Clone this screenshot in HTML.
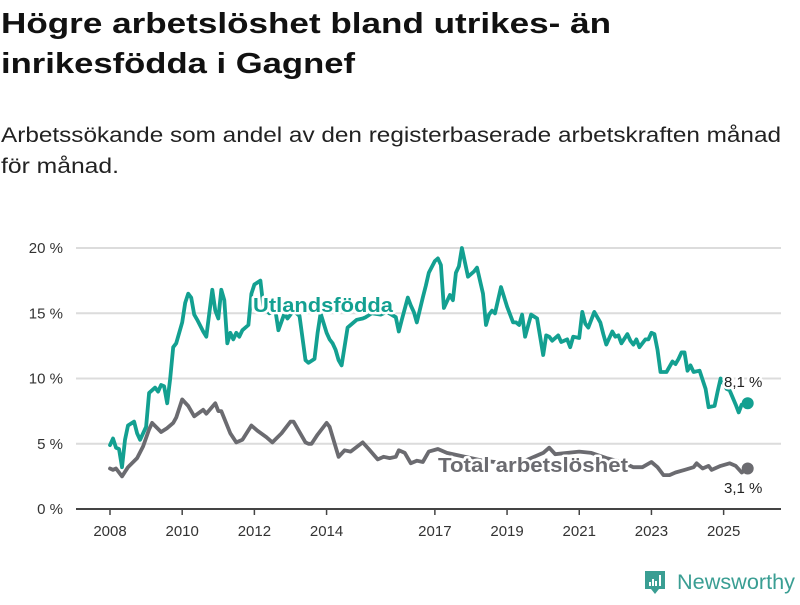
<!DOCTYPE html>
<html><head><meta charset="utf-8">
<style>
html,body{margin:0;padding:0;background:#fff;}
body{width:800px;height:600px;overflow:hidden;font-family:"Liberation Sans",sans-serif;}
svg text{font-family:"Liberation Sans",sans-serif;}
</style></head>
<body>
<svg id="chart" width="800" height="600" viewBox="0 0 800 600">
  <text x="1" y="33" font-size="29" font-weight="bold" fill="#111" textLength="610" lengthAdjust="spacingAndGlyphs">Högre arbetslöshet bland utrikes- än</text>
  <text x="1" y="73" font-size="29" font-weight="bold" fill="#111" textLength="354" lengthAdjust="spacingAndGlyphs">inrikesfödda i Gagnef</text>
  <text x="1" y="142" font-size="21" fill="#222" textLength="780" lengthAdjust="spacingAndGlyphs">Arbetssökande som andel av den registerbaserade arbetskraften månad</text>
  <text x="1" y="173" font-size="21" fill="#222" textLength="118" lengthAdjust="spacingAndGlyphs">för månad.</text>
  <g id="grid"></g>
  <g id="xaxis"></g>
  <g id="series"></g>
  <g id="labels"></g>
  <g>
    <path d="M645 571 h20 v18 h-6 l-4 5 l-4 -5 h-6 z" fill="#3a9e93"/>
    <rect x="649" y="582" width="2" height="4" fill="#fff"/>
    <rect x="652" y="579" width="2" height="7" fill="#fff"/>
    <rect x="655" y="581" width="2" height="5" fill="#fff"/>
    <rect x="659" y="575" width="2" height="11" fill="#fff"/>
    <text x="677" y="589" font-size="21" fill="#3a9e93" textLength="118" lengthAdjust="spacingAndGlyphs">Newsworthy</text>
  </g>
</svg>
<script>
// months since 2008-01
const foreignMonths = [0,1,2,3,4,5,6,8,9,10,12,13,15,16,17,18,19,20,21,22,24,25,26,27,28,29,31,32,34,35,36,37,38,39,40,41,42,43,44,46,47,48,50,51,53,55,56,58,59,61,63,65,66,68,69,70,72,73,74,75,76,77,79,81,82,84,85,87,90,92,95,96,97,99,100,101,102,104,105,106,108,109,110,111,113,114,115,116,117,119,121,122,124,125,126,127,128,130,132,134,135,136,137,138,140,142,144,145,146,147,149,150,152,153,154,156,157,158,159,161,163,164,165,167,168,169,170,172,173,174,175,176,178,179,180,181,182,183,185,187,188,189,190,191,192,193,194,196,198,199,201,202,203,205,206,208,209,210,212];
const foreignValues = [4.9,5.4,4.7,4.6,3.2,5.3,6.4,6.7,5.8,5.3,6.3,8.9,9.3,9.0,9.5,9.4,8.1,10.0,12.4,12.7,14.3,15.8,16.5,16.2,14.9,14.5,13.6,13.2,16.8,15.2,14.6,16.8,16.0,12.7,13.5,13.0,13.5,13.2,13.7,14.1,16.5,17.2,17.5,15.5,15.0,15.2,13.7,15.0,14.6,15.2,14.8,11.4,11.2,11.5,13.5,15.0,13.5,13.0,12.7,12.2,11.4,11.0,13.9,14.3,14.5,14.6,14.7,15.0,14.9,15.1,14.7,13.6,14.5,16.2,15.6,15.1,14.3,16.2,17.1,18.1,19.0,19.2,18.7,15.4,16.4,16.0,18.1,18.6,20.0,17.8,18.2,18.5,16.5,14.1,14.9,15.2,15.0,17.0,15.5,14.3,14.3,14.1,14.9,13.2,14.9,14.6,11.8,13.3,13.2,12.9,13.3,12.8,13.0,12.4,13.2,13.1,15.1,14.2,13.9,15.1,14.3,13.4,12.6,13.6,13.2,13.3,12.7,13.4,12.9,12.6,13.0,12.4,13.0,13.0,13.5,13.4,12.2,10.5,10.5,11.3,11.1,11.5,12.0,12.0,10.6,11.0,10.5,10.6,9.2,7.8,7.9,9.0,10.0,9.2,9.1,8.0,7.4,8.0,8.1];
const totalMonths = [0,1,2,4,6,9,11,13,14,17,19,21,22,24,26,28,31,32,35,36,37,40,42,44,47,49,52,54,57,60,61,65,66,67,69,72,73,76,78,80,84,86,89,91,93,95,96,98,100,102,104,106,109,112,116,120,124,128,132,136,140,144,146,148,152,156,160,165,170,174,177,180,182,184,186,188,191,194,195,197,199,200,203,206,208,210,212];
const totalValues = [3.1,3.0,3.1,2.5,3.2,3.9,4.8,6.1,6.6,5.9,6.2,6.6,7.0,8.4,7.9,7.1,7.6,7.3,8.1,7.5,7.5,5.8,5.1,5.3,6.4,6.0,5.5,5.1,5.8,6.7,6.7,5.1,5.0,5.0,5.7,6.6,6.3,4.0,4.5,4.4,5.1,4.6,3.8,4.0,3.9,4.0,4.5,4.3,3.5,3.7,3.6,4.4,4.6,4.3,4.1,3.9,3.7,3.6,3.4,3.5,3.9,4.3,4.7,4.2,4.3,4.4,4.3,3.9,3.6,3.2,3.2,3.6,3.2,2.6,2.6,2.8,3.0,3.2,3.5,3.1,3.3,3.0,3.3,3.5,3.3,2.8,3.1];
const yTicks = [0,5,10,15,20];
const yTickLabels = ["0 %","5 %","10 %","15 %","20 %"];
const xTickYears = [2008,2010,2012,2014,2017,2019,2021,2023,2025];

const NS="http://www.w3.org/2000/svg";
const xScale = m => 110 + m*3.008;
const yScale = v => 509 - v*13.05;
function mk(tag, attrs, parent){const e=document.createElementNS(NS,tag);for(const k in attrs)e.setAttribute(k,attrs[k]);parent.appendChild(e);return e;}
const grid=document.getElementById('grid'), xa=document.getElementById('xaxis'), ser=document.getElementById('series'), lab=document.getElementById('labels');

yTicks.forEach((t,i)=>{
  if(t>0){
    const l=mk('line',{x1:76,x2:781,y1:yScale(t),y2:yScale(t),stroke:'#dcdcdc','stroke-width':2},grid);
    
    
  }
  const tx=mk('text',{x:63,y:yScale(t)+5,'font-size':15,fill:'#333','text-anchor':'end'},grid);
  tx.textContent=yTickLabels[i];
  
  
});
const ax=mk('line',{x1:76,x2:781,y1:509,y2:509,stroke:'#444','stroke-width':2},xa);


xTickYears.forEach(y=>{
  const x=xScale((y-2008)*12);
  const t=mk('line',{x1:x,x2:x,y1:509,y2:515,stroke:'#444','stroke-width':1.5},xa);
  
  
  const tx=mk('text',{x:x,y:536,'font-size':15,fill:'#333','text-anchor':'middle'},xa);
  tx.textContent=String(y);
  
  
});
function line(ms,vs,color,name){
  const d=ms.map((m,i)=>(i?'L':'M')+xScale(m).toFixed(1)+' '+yScale(vs[i]).toFixed(1)).join(' ');
  const p=mk('path',{d:d,fill:'none',stroke:color,'stroke-width':3.8,'stroke-linejoin':'round','stroke-linecap':'round'},ser);
  
  
  const n=ms.length-1;
  const c=mk('circle',{cx:xScale(ms[n]),cy:yScale(vs[n]),r:6,fill:color},ser);
  
  
}
line(totalMonths,totalValues,'#6b6b70','total');
line(foreignMonths,foreignValues,'#13a091','foreign');
function label(x,y,txt,size,color,weight,anchor,name,len){
  const a={x:x,y:y,'font-size':size,fill:color,'font-weight':weight,'text-anchor':anchor,stroke:'#fff','stroke-width':5,'paint-order':'stroke','stroke-linejoin':'round'};
  if(len){a.textLength=len;a.lengthAdjust='spacingAndGlyphs';}
  const t=mk('text',a,lab);
  t.textContent=txt;
  
  
}
label(253,312,'Utlandsfödda',20,'#13a091','bold','start','series-label-foreign',140);
label(438,472,'Total arbetslöshet',20,'#6b6b70','bold','start','series-label-total',190);
const nf=foreignValues.length-1, nt=totalValues.length-1;
label(724,387,foreignValues[nf].toFixed(1).replace('.',',')+' %',15,'#222','normal','start','end-value-foreign');
label(724,493,totalValues[nt].toFixed(1).replace('.',',')+' %',15,'#222','normal','start','end-value-total');
</script>
</body></html>
